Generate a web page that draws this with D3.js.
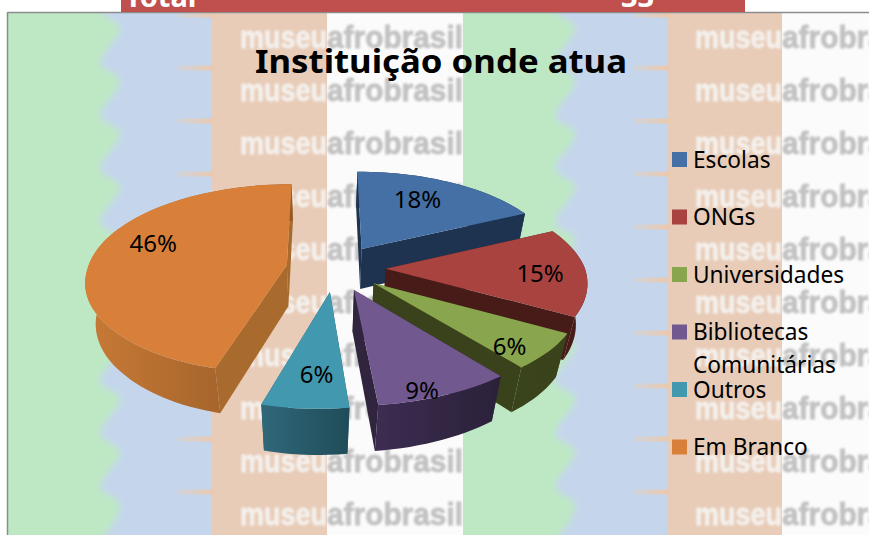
<!DOCTYPE html>
<html lang="en">

<head>
    <meta charset="utf-8">
    <title>Instituição onde atua</title>
    <script src="https://cdn.jsdelivr.net/npm/d3@7"></script>
    <style>
    html, body { margin: 0; padding: 0; background: #fff; overflow: hidden; }
    svg { display: block; }
    text { font-family: "Noto Sans", sans-serif; }
    </style>
</head>

<body>
    <script>
    //data
    var categories = ["Escolas", "ONGs", "Universidades", "Bibliotecas Comunitárias", "Outros", "Em Branco"];
    var values = [18, 15, 6, 9, 6, 46];
    var title = "Instituição onde atua";
    var bannerLabel = "Total";
    var bannerValue = "33";

    //slice colours
    var topColors = ["#4470A6", "#A84340", "#89A54E", "#71588F", "#4198AF", "#D88039"];
    var cutColors = ["#1E3350", "#471B18", "#39421B", "#30243F", "#2A5F6E", "#A86A2D"];
    var wallLeft = ["#1E3350", "#4A1C19", "#3A441B", "#3D2D52", "#30687A", "#C87A36"];
    var wallRight = ["#1E3350", "#471B18", "#39421B", "#2A2139", "#1F4C58", "#945A26"];

    //label spot in each slice: radius share, angle shift in degrees
    var labelRadius = [0.69, 0.77, 0.85, 0.935, 0.74, 0.745];
    var labelShift = [-4, 2, 5, 4.4, -2, 12];

    //svg size
    var w = 869;
    var h = 535;

    var svg = d3.select("body").append("svg").attr("width", w).attr("height", h);
    var defs = svg.append("defs");

    defs.append("filter").attr("id", "soft")
        .append("feGaussianBlur").attr("stdDeviation", 1);
    defs.append("filter").attr("id", "softer")
        .append("feGaussianBlur").attr("stdDeviation", 3);

    var streakFade = defs.append("linearGradient").attr("id", "streakFade");
    streakFade.append("stop").attr("offset", 0).attr("stop-color", "#EBCDB4").attr("stop-opacity", 0.3);
    streakFade.append("stop").attr("offset", 1).attr("stop-color", "#EBC8AC");

    //background: same tile twice
    var tileW = 455;
    var frameTop = 12;
    var rowYs = d3.range(0, 10).map(function(i) { return 48 + i * 53; });
    var waveYs = d3.range(-1, 10);
    var waveLine = d3.line().curve(d3.curveMonotoneY);

    function drawTile(x0) {
        var g = svg.append("g").attr("transform", "translate(" + x0 + ",0)");
        var clipId = "tile" + x0;
        defs.append("clipPath").attr("id", clipId)
            .append("rect").attr("x", 0).attr("y", frameTop).attr("width", tileW).attr("height", h - frameTop);
        var inner = g.append("g").attr("clip-path", "url(#" + clipId + ")");

        inner.append("rect").attr("y", frameTop).attr("width", tileW).attr("height", h - frameTop).attr("fill", "#FBFBFB");
        inner.append("rect").attr("y", frameTop).attr("width", 319).attr("height", h - frameTop).attr("fill", "#E8CCB8");
        inner.append("rect").attr("y", frameTop).attr("width", 204).attr("height", h - frameTop).attr("fill", "#C5D6EC");

        //peach streaks reaching into the blue
        inner.append("g").selectAll("rect")
            .data(waveYs).enter().append("rect")
            .attr("x", 170).attr("y", function(k) { return 65.5 + k * 53; })
            .attr("width", 36).attr("height", 5)
            .attr("fill", "url(#streakFade)");

        //wavy edge of the green band
        var pts = [];
        waveYs.forEach(function(k) {
            pts.push([112, 27 + k * 53]);
            pts.push([92, 64 + k * 53]);
        });
        var d = "M-10," + (frameTop - 30) + "L" + waveLine(pts).slice(1) + "L-10," + (h + 30) + "Z";
        inner.append("path").attr("d", d).attr("fill", "#BEE8C4").attr("filter", "url(#softer)");

        //watermark rows
        var rows = inner.append("g").attr("filter", "url(#soft)")
            .style("font-weight", "bold")
            .style("font-size", "32px");
        rows.selectAll("text.museu").data(rowYs).enter().append("text")
            .attr("class", "museu")
            .style("font-family", "'Liberation Sans', sans-serif")
            .attr("x", 232).attr("y", function(d) { return d; })
            .attr("textLength", 87).attr("lengthAdjust", "spacingAndGlyphs")
            .attr("fill", "#F4F0EC").attr("stroke", "#F4F0EC").attr("stroke-width", 0.8)
            .text("museu");
        rows.selectAll("text.afro").data(rowYs).enter().append("text")
            .attr("class", "afro")
            .style("font-family", "'Liberation Sans', sans-serif")
            .attr("x", 319).attr("y", function(d) { return d; })
            .attr("textLength", 136).attr("lengthAdjust", "spacingAndGlyphs")
            .attr("fill", "#C2C2C2").attr("stroke", "#C2C2C2").attr("stroke-width", 0.8)
            .text("afrobrasil");
    }
    drawTile(8);
    drawTile(8 + tileW);

    //frame
    svg.append("line").attr("x1", 7.5).attr("x2", w).attr("y1", frameTop + 0.5).attr("y2", frameTop + 0.5)
        .attr("stroke", "#8C8C8C").attr("stroke-width", 1.5);
    svg.append("line").attr("x1", 7.5).attr("x2", 7.5).attr("y1", frameTop).attr("y2", h)
        .attr("stroke", "#8C8C8C").attr("stroke-width", 1.5);

    //cut off table row above the chart
    svg.append("rect").attr("x", 121).attr("y", 0).attr("width", 624).attr("height", frameTop).attr("fill", "#C0504D");
    svg.append("text").attr("x", 125).attr("y", 7).attr("fill", "#fff")
        .attr("font-size", 29).attr("font-weight", "bold").text(bannerLabel);
    svg.append("text").attr("x", 621).attr("y", 7).attr("fill", "#fff")
        .attr("font-size", 29).attr("font-weight", "bold").text(bannerValue);

    //title
    svg.append("text").attr("x", 255).attr("y", 73)
        .attr("textLength", 372).attr("lengthAdjust", "spacingAndGlyphs")
        .attr("font-size", 33).attr("font-weight", "bold").attr("fill", "#000")
        .text(title);

    //pie layout: starts at the top, runs clockwise, input order
    var pie = d3.pie().sort(null).value(function(d) { return d; });
    var arcsData = pie(values);

    //projection of the tilted pie
    var xScale = d3.scaleLinear().domain([-1, 1]).range([-199, 199]);
    var yScale = d3.scaleLinear().domain([-1, 1]).range([93, -93]);
    var zScale = d3.scaleLinear().domain([0, 1]).range([0, 41]);
    var vanishX = 326;
    var shiftX = 10;
    var cy = 268;
    var tilt = 0.14;
    var sink = 0.045;
    var lean = 13;
    var explode = 0.25;

    function project(X, Y, z) {
        var s = 1 / (1 + tilt * Y + sink * z);
        var front = Y < 0 ? lean * Y * (1 - 0.6 * Math.min(1, Math.abs(X))) : 0;
        return [
            vanishX + (xScale(X) + shiftX) * s + front,
            cy + yScale(Y) / (1 + tilt * Y) + zScale(z) * (1 - 0.1 * Y)
        ];
    }

    function midAngle(d) {
        return (d.startAngle + d.endAngle) / 2;
    }

    //point of slice d at radius share r and angle a
    function slicePoint(d, r, a, z) {
        var m = midAngle(d);
        return project(
            explode * Math.sin(m) + r * Math.sin(a),
            explode * Math.cos(m) + r * Math.cos(a),
            z
        );
    }

    function arcAngles(d) {
        var n = Math.max(4, Math.ceil((d.endAngle - d.startAngle) / 0.04));
        return d3.range(n + 1).map(function(i) {
            return d.startAngle + (d.endAngle - d.startAngle) * i / n;
        });
    }

    var line = d3.line();
    var pieG = svg.append("g");

    //back slices first
    var order = arcsData.slice().sort(function(a, b) {
        return Math.cos(midAngle(b)) - Math.cos(midAngle(a));
    });

    order.forEach(function(d) {
        var i = d.index;
        var g = pieG.append("g").attr("class", "slice");
        var angles = arcAngles(d);

        //radial cuts
        [d.startAngle, d.endAngle].forEach(function(a) {
            var cut = [slicePoint(d, 0, a, 0), slicePoint(d, 1, a, 0), slicePoint(d, 1, a, 1), slicePoint(d, 0, a, 1)];
            g.append("path").attr("d", line(cut) + "Z").attr("fill", cutColors[i]);
        });

        //outer wall
        var outer = angles.map(function(a) { return slicePoint(d, 1, a, 0); })
            .concat(angles.slice().reverse().map(function(a) { return slicePoint(d, 1, a, 1); }));
        var xs = d3.extent(outer, function(p) { return p[0]; });
        var gradId = "wall" + i;
        var grad = defs.append("linearGradient").attr("id", gradId)
            .attr("gradientUnits", "userSpaceOnUse")
            .attr("x1", xs[0]).attr("x2", xs[1]).attr("y1", 0).attr("y2", 0);
        grad.append("stop").attr("offset", 0).attr("stop-color", wallLeft[i]);
        grad.append("stop").attr("offset", 1).attr("stop-color", wallRight[i]);
        g.append("path").attr("d", line(outer) + "Z").attr("fill", "url(#" + gradId + ")");

        //top face
        var face = [slicePoint(d, 0, d.startAngle, 0)].concat(angles.map(function(a) {
            return slicePoint(d, 1, a, 0);
        }));
        g.append("path").attr("d", line(face) + "Z").attr("fill", topColors[i]);
    });

    //percent labels
    pieG.selectAll("text.pct").data(arcsData).enter().append("text")
        .attr("class", "pct")
        .attr("transform", function(d) {
            var a = midAngle(d) + labelShift[d.index] * Math.PI / 180;
            return "translate(" + slicePoint(d, labelRadius[d.index], a, 0) + ")";
        })
        .attr("text-anchor", "middle").attr("dy", "0.36em")
        .attr("font-size", 24).attr("fill", "#000")
        .text(function(d) { return d.data + "%"; });

    //legend
    var wrapped = { "Bibliotecas Comunitárias": ["Bibliotecas", "Comunitárias"] };
    var legendY = d3.scalePoint().domain(categories).range([159.5, 447]);
    var legend = svg.append("g").selectAll("g").data(categories).enter().append("g")
        .attr("transform", function(d) { return "translate(672," + legendY(d) + ")"; });
    legend.append("rect").attr("y", -7.5).attr("width", 15).attr("height", 15)
        .attr("fill", function(d, i) { return topColors[i]; });
    legend.append("text").attr("x", 21).attr("y", 8).attr("font-size", 22.7).attr("fill", "#000")
        .each(function(d) {
            var el = d3.select(this);
            (wrapped[d] || [d]).forEach(function(t, i) {
                el.append("tspan").attr("x", 21).attr("dy", i ? 33 : 0).text(t);
            });
        });
    </script>
</body>

</html>
